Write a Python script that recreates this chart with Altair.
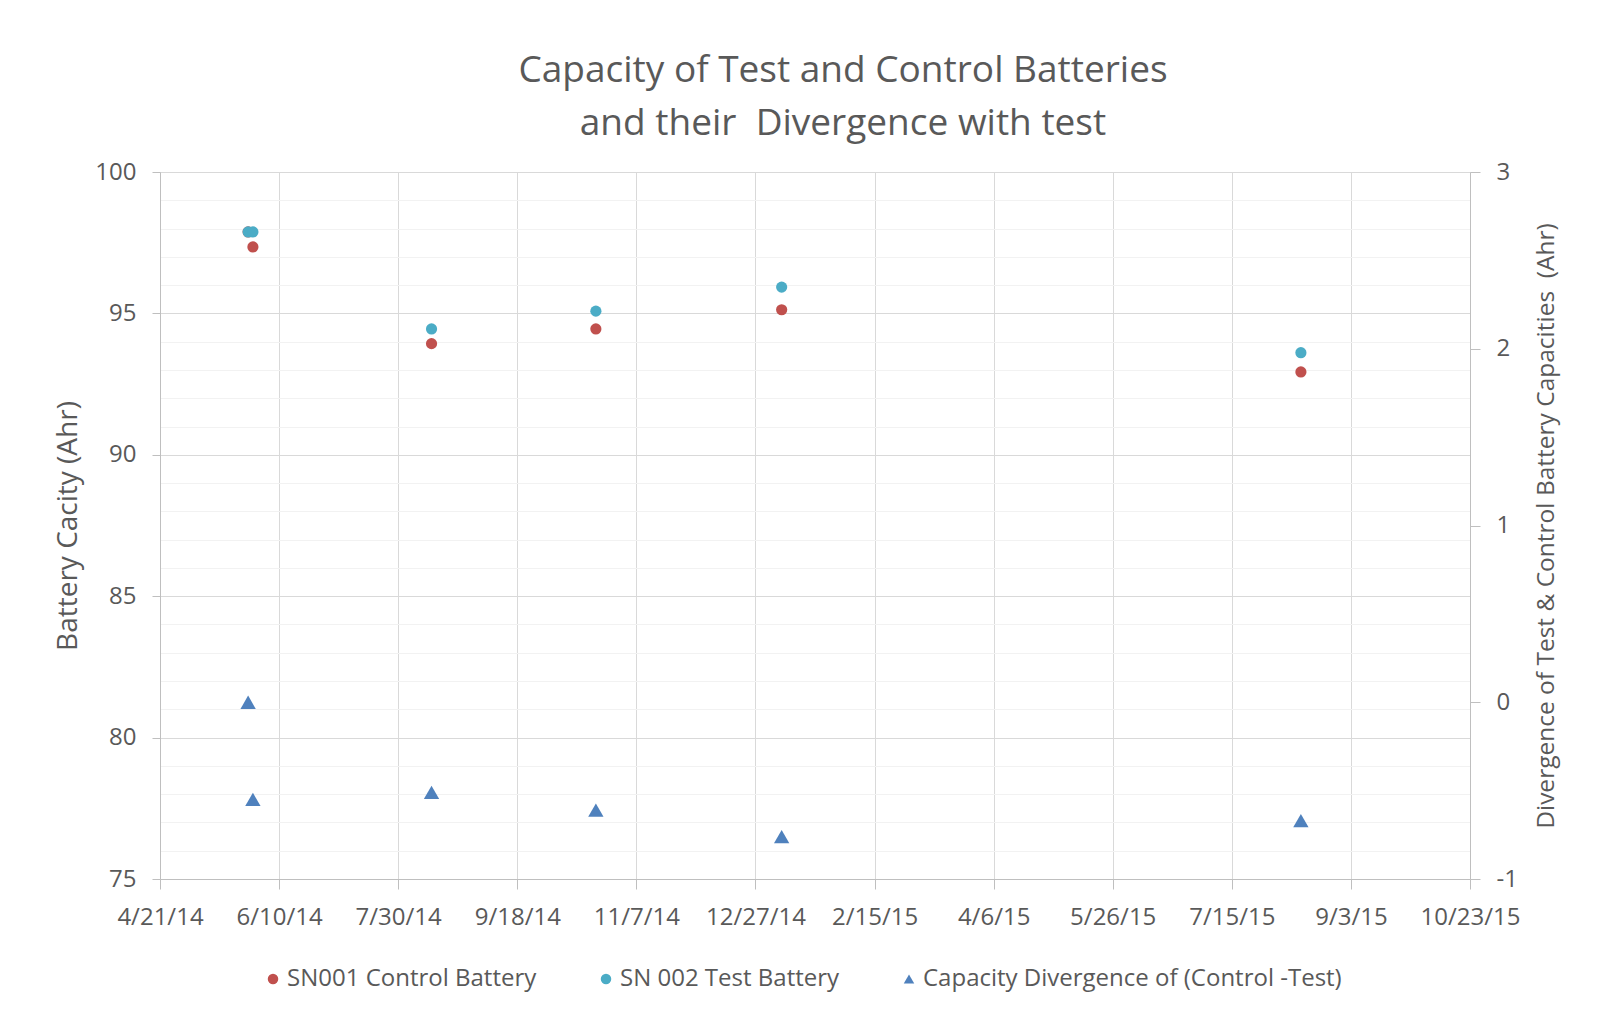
import altair as alt
import pandas as pd

# ---- data ----
dates = ["2014-05-28", "2014-05-30", "2014-08-13", "2014-10-21", "2015-01-07", "2015-08-13"]
control = [97.88, 97.35, 93.93, 94.45, 95.13, 92.93]
test = [97.88, 97.88, 94.45, 95.08, 95.93, 93.61]
divergence = [0.0, -0.55, -0.51, -0.61, -0.76, -0.67]

series_names = ["SN001 Control Battery", "SN 002 Test Battery",
                "Capacity Divergence of (Control -Test)"]
series_colors = ["#C0504D", "#4BACC6", "#4F81BD"]
series_shapes = ["circle", "circle", "triangle-up"]

x_start, x_end = "2014-04-21", "2015-10-23"
x_tick_dates = list(pd.date_range(x_start, x_end, freq="50D"))
left_ticks = list(range(75, 101))
right_ticks = [-1, 0, 1, 2, 3]
title_lines = ["Capacity of Test and Control Batteries", "and their\u00a0 Divergence with test"]
left_title = "Battery Cacity (Ahr)"
right_title = "Divergence of Test & Control Battery Capacities\u00a0 (Ahr)"

TXT = "#595959"
FONT = "Open Sans"


def ms(ts):
    return int(pd.Timestamp(ts).value // 10**6)


caps = pd.DataFrame({
    "date": dates * 2,
    "series": [series_names[0]] * len(dates) + [series_names[1]] * len(dates),
    "value": control + test,
})
div = pd.DataFrame({"date": dates, "series": series_names[2], "value": divergence})

x_enc = alt.X(
    "date:T",
    scale=alt.Scale(type="utc", domain=[ms(x_start), ms(x_end)], nice=False),
    axis=alt.Axis(
        values=[ms(d) for d in x_tick_dates], format="%-m/%-d/%y", title=None,
        labelFlush=False, labelOverlap=False, labelFontSize=24, labelPadding=16,
        tickSize=10, tickColor="#bfbfbf", domainColor="#bfbfbf",
        gridColor="#d9d9d9", grid=True,
    ),
)

legend = alt.Legend(title=None, orient="none", direction="horizontal",
                    legendX=101, legendY=795, labelFontSize=24,
                    labelColor=TXT, symbolSize=110, labelOffset=2,
                    columnPadding=57, padding=0, labelLimit=700)
color_enc = alt.Color("series:N", scale=alt.Scale(domain=series_names, range=series_colors),
                      legend=legend)
shape_enc = alt.Shape("series:N", scale=alt.Scale(domain=series_names, range=series_shapes),
                      legend=legend)

mult5 = "datum.value % 5 === 0"
left = alt.Chart(caps).mark_point(filled=True, opacity=1, size=125).encode(
    x=x_enc,
    y=alt.Y("value:Q", scale=alt.Scale(domain=[75, 100], nice=False, zero=False),
            axis=alt.Axis(
                orient="left", values=left_ticks, title=left_title, titleFontSize=28,
                titleFontWeight="normal", titleColor=TXT, titlePadding=12,
                labelExpr=f"{mult5} ? datum.label : ''", labelOverlap=False,
                labelFontSize=24, labelPadding=16, tickSize=8,
                tickColor="#bfbfbf", domainColor="#bfbfbf",
                tickOpacity={"condition": {"test": mult5, "value": 1}, "value": 0},
                gridColor={"condition": {"test": mult5, "value": "#d9d9d9"}, "value": "#f2f2f2"},
            )),
    color=color_enc,
    shape=shape_enc,
)

right = alt.Chart(div).mark_point(filled=True, opacity=1, size=235).encode(
    x=x_enc,
    y=alt.Y("value:Q", scale=alt.Scale(domain=[-1, 3], nice=False, zero=False),
            axis=alt.Axis(
                orient="right", values=right_ticks, title=right_title, titleFontSize=24.5,
                titleFontWeight="normal", titleColor=TXT, titlePadding=41, titleAngle=270,
                grid=False, labelFontSize=24, labelPadding=16, tickSize=10,
                labelExpr="datum.value < 0 ? '-' + abs(datum.value) : datum.label",
                tickColor="#bfbfbf", domainColor="#bfbfbf",
            )),
    color=color_enc,
    shape=shape_enc,
)

chart = alt.layer(left, right).resolve_scale(y="independent").properties(
    width=1310, height=707,
    title=alt.TitleParams(text=title_lines, fontSize=37, font=FONT, color=TXT,
                          fontWeight="normal", anchor="middle", dx=28, offset=17,
                          lineHeight=53),
    autosize=alt.AutoSizeParams(type="none"),
    padding={"left": 152, "top": 164, "right": 126, "bottom": 124},
).configure(
    font=FONT, background="white",
).configure_view(stroke=None).configure_axis(
    labelColor=TXT, labelFont=FONT, titleFont=FONT,
).configure_legend(labelFont=FONT)

chart.save("out.html", embed_options={"renderer": "svg", "actions": False})
